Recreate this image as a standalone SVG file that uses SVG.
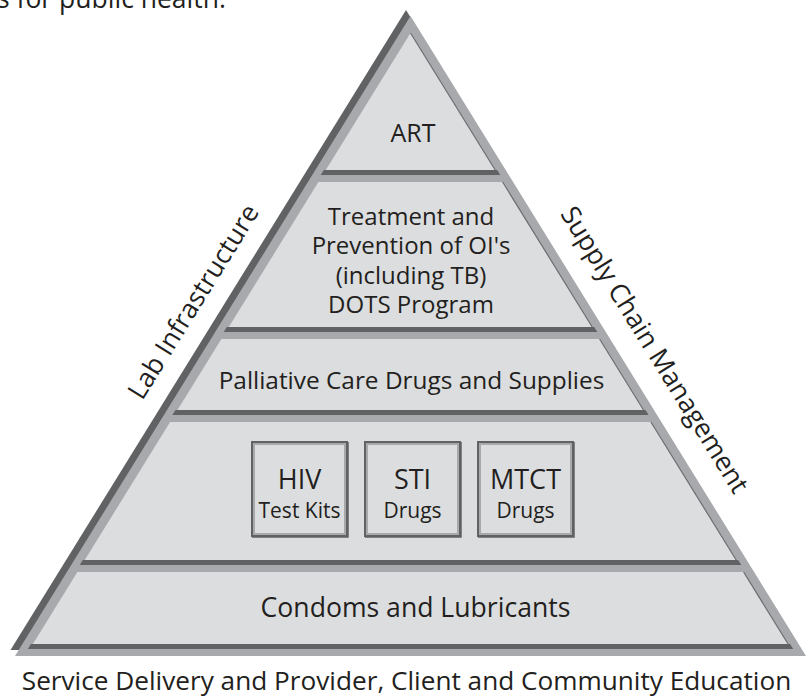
<svg xmlns="http://www.w3.org/2000/svg" width="806" height="697" viewBox="0 0 806 697">
<style>
text{font-family:"Open Sans","Liberation Sans",sans-serif;fill:#231f20;text-anchor:middle}
.fill{fill:#dcdddf}
.bar{fill:#616264}
.edge{stroke:#6d6e71;stroke-width:1.2;fill:none}
.box{fill:#a7a9ac;stroke:#616264;stroke-width:2}
.boxin{fill:#dcdddf}
.t24{font-size:24px}
.big{font-size:26px}
.sm{font-size:21px}
</style>
<rect width="806" height="697" fill="#ffffff"/>
<text x="-3" y="8" style="text-anchor:start;font-size:26.5px">s for public health.</text>
<g id="pyramid-frame">
<polygon points="406,10 10.5,650 801.5,650" fill="#616264"/>
<polygon points="410.5,16 15,656 806,656" fill="#a7a9ac"/>
</g>
<g id="tier-art">
<polygon class="fill" points="410.5,33 325.8,170 495.2,170"/>
<line class="edge" x1="410.5" y1="33" x2="495.2" y2="170"/>
<polygon class="bar" points="323.8,170 497.2,170 500.3,175 320.7,175"/>
<text class="t24" x="413" y="142" style="font-size:25px">ART</text>
</g>
<g id="tier-treatment">
<polygon class="fill" points="318.4,182 502.6,182 592.2,327 228.8,327"/>
<line class="edge" x1="502.6" y1="182" x2="592.2" y2="327"/>
<polygon class="bar" points="226.8,327 594.2,327 597.3,332 223.7,332"/>
<text class="t24" x="411" y="224.5">Treatment and</text>
<text class="t24" x="411" y="254">Prevention of OI's</text>
<text class="t24" x="411" y="283.5">(including TB)</text>
<text class="t24" x="411" y="313">DOTS Program</text>
</g>
<g id="tier-palliative">
<polygon class="fill" points="221.4,339 599.6,339 643.5,410 177.5,410"/>
<line class="edge" x1="599.6" y1="339" x2="643.5" y2="410"/>
<polygon class="bar" points="175.5,410 645.5,410 648.6,415 172.4,415"/>
<text class="t24" x="411.5" y="389" style="font-size:24.4px">Palliative Care Drugs and Supplies</text>
</g>
<g id="tier-tests">
<polygon class="fill" points="170.1,422 650.9,422 736.2,560 84.8,560"/>
<line class="edge" x1="650.9" y1="422" x2="736.2" y2="560"/>
<polygon class="bar" points="82.8,560 738.2,560 741.3,565 79.7,565"/>
</g>
<g id="box-hiv">
<rect class="box" x="252" y="442" width="95" height="94"/>
<rect class="boxin" x="255" y="445" width="89" height="88"/>
<path d="M252,537H348V442" stroke="#616264" stroke-width="1.5" fill="none"/>
<text class="big" x="299.5" y="489" style="font-size:27px">HIV</text>
<text class="sm" x="299.5" y="518">Test Kits</text>
</g>
<g id="box-sti">
<rect class="box" x="365" y="442" width="95" height="94"/>
<rect class="boxin" x="368" y="445" width="89" height="88"/>
<path d="M365,537H461V442" stroke="#616264" stroke-width="1.5" fill="none"/>
<text class="big" x="412.5" y="489" style="font-size:27px">STI</text>
<text class="sm" x="412.5" y="518">Drugs</text>
</g>
<g id="box-mtct">
<rect class="box" x="478" y="442" width="95" height="94"/>
<rect class="boxin" x="481" y="445" width="89" height="88"/>
<path d="M478,537H574V442" stroke="#616264" stroke-width="1.5" fill="none"/>
<text class="big" x="525.5" y="489" style="font-size:27px">MTCT</text>
<text class="sm" x="525.5" y="518">Drugs</text>
</g>
<g id="tier-condoms">
<polygon class="fill" points="77.4,572 743.6,572 788.1,644 32.9,644"/>
<line class="edge" x1="743.6" y1="572" x2="788.1" y2="644"/>
<polygon class="bar" points="30.9,644 790.1,644 793.2,649 27.8,649"/>
<text class="big" x="415.5" y="617" style="font-size:26.6px">Condoms and Lubricants</text>
</g>
<g id="label-lab">
<text transform="translate(201,306.5) rotate(-58.2)" style="font-size:26.5px">Lab Infrastructure</text>
</g>
<g id="label-supply">
<text transform="translate(647,354.5) rotate(58.2)" style="font-size:26.5px">Supply Chain Management</text>
</g>
<g id="label-bottom">
<text x="406.5" y="690" style="font-size:26.2px">Service Delivery and Provider, Client and Community Education</text>
</g>
<g id="connectors"></g>
</svg>
